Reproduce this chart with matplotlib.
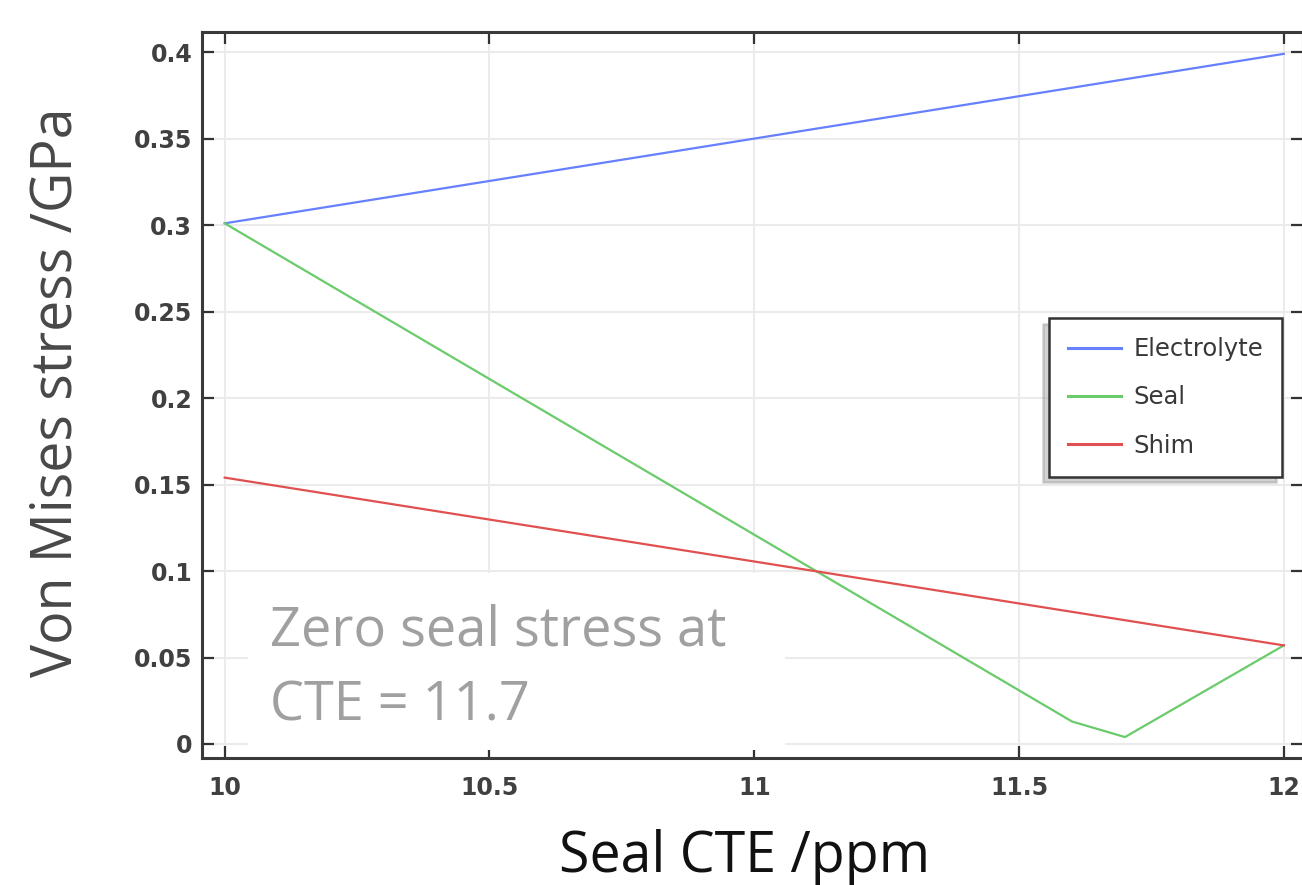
import matplotlib
matplotlib.use("Agg")
import matplotlib.pyplot as plt
from matplotlib.patches import Rectangle

cte_electrolyte = [10.0, 12.0]
electrolyte = [0.301, 0.399]
cte_seal = [10.0, 11.6, 11.7, 12.0]
seal = [0.301, 0.013, 0.004, 0.057]
cte_shim = [10.0, 12.0]
shim = [0.154, 0.057]

xticks = [10, 10.5, 11, 11.5, 12]
xticklabels = ["10", "10.5", "11", "11.5", "12"]
yticks = [0, 0.05, 0.1, 0.15, 0.2, 0.25, 0.3, 0.35, 0.4]
yticklabels = ["0", "0.05", "0.1", "0.15", "0.2", "0.25", "0.3", "0.35", "0.4"]

plt.rcParams['font.family'] = ['Open Sans', 'DejaVu Sans']

fig = plt.figure(figsize=(13.02, 8.85), dpi=100)
ax = fig.add_axes([0.1551, 0.1435, 0.8456, 0.8203])

ax.plot(cte_electrolyte, electrolyte, color='#6680ff', lw=1.6, label='Electrolyte', zorder=3)
ax.plot(cte_seal, seal, color='#6acb6a', lw=1.6, label='Seal', zorder=3)
ax.plot(cte_shim, shim, color='#e05050', lw=1.6, label='Shim', zorder=3)

ax.set_xlim(9.957, 12.036)
ax.set_ylim(-0.0081, 0.4116)
ax.set_xticks(xticks)
ax.set_xticklabels(xticklabels)
ax.set_yticks(yticks)
ax.set_yticklabels(yticklabels)
ax.grid(True, color='#ebebeb', lw=1.5)
ax.set_axisbelow(True)
ax.tick_params(direction='in', length=8.5, width=1.6, color='#333333',
               labelsize=17, labelcolor='#404040', top=True, right=True)
ax.tick_params(axis='y', pad=7)
ax.tick_params(axis='x', pad=13)
for lab in ax.get_xticklabels() + ax.get_yticklabels():
    lab.set_family('DejaVu Sans')
    lab.set_fontweight('bold')
for s in ax.spines.values():
    s.set_linewidth(2.2)
    s.set_color('#3a3a3a')

fig.text(57 / 1302, 1 - 392 / 885, 'Von Mises stress /GPa', rotation=90,
         fontsize=40, color='#484848', ha='center', va='center')
fig.text(745 / 1302, 1 - 872 / 885, 'Seal CTE /ppm', fontsize=40,
         color='#111111', ha='center', va='baseline')

leg = ax.legend(loc='upper right', bbox_to_anchor=(0.981, 0.606), borderaxespad=0,
                prop={'family': 'DejaVu Sans', 'size': 17.5},
                frameon=True, fancybox=False,
                shadow={'ox': -4, 'oy': -4, 'color': '#999999', 'alpha': 0.45},
                handlelength=2.2, labelspacing=1.0, borderpad=0.78,
                handletextpad=0.5)
leg.get_frame().set_edgecolor('#333333')
leg.get_frame().set_linewidth(1.8)
leg.get_frame().set_alpha(1)
for t in leg.get_texts():
    t.set_color('#383838')
for h in leg.get_lines():
    h.set_linewidth(2.2)

ax.add_patch(Rectangle((0.0418, 0.011), 0.4877, 0.2438, transform=ax.transAxes,
                       facecolor='white', edgecolor='none', zorder=1.5))
ax.text(0.0618, 0.1556, 'Zero seal stress at', transform=ax.transAxes,
        fontsize=39, color='#a0a0a0', ha='left', va='baseline', zorder=2)
ax.text(0.0618, 0.0523, 'CTE = 11.7', transform=ax.transAxes,
        fontsize=39, color='#a0a0a0', ha='left', va='baseline', zorder=2)

fig.savefig('out.png', dpi=100)
